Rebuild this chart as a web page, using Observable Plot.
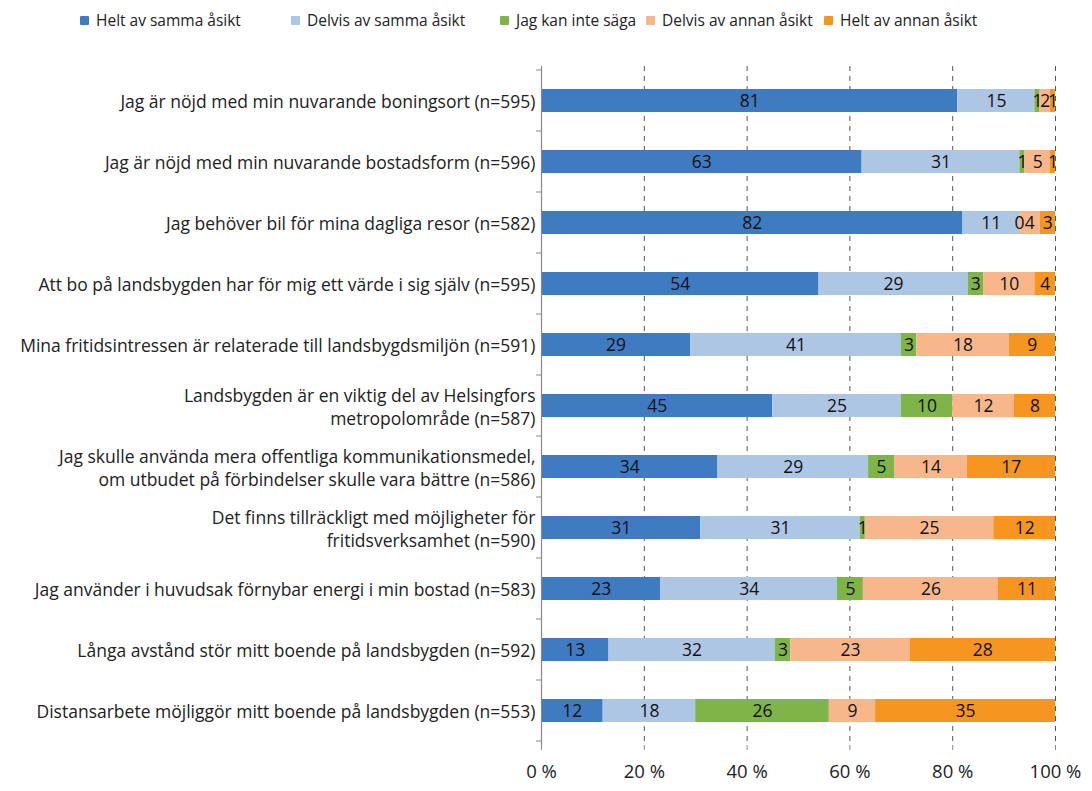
<!DOCTYPE html>
<html>
<head>
<meta charset="utf-8">
<script src="https://cdn.jsdelivr.net/npm/d3@7"></script>
<script src="https://cdn.jsdelivr.net/npm/@observablehq/plot@0.6"></script>
<style>
  html, body { margin: 0; padding: 0; background: #fff; }
  body { width: 1092px; height: 791px; overflow: hidden; font-family: "Open Sans", sans-serif; }
  #legend { position: relative; height: 45px; width: 1092px; font-size: 15.5px; color: #222; }
  .item { position: absolute; top: 9px; display: flex; align-items: center; white-space: nowrap; }
  .sw { width: 9px; height: 9px; margin-right: 7px; border-radius: 1px; }
</style>
</head>
<body>
<div id="legend"></div>
<div id="chart"></div>
<script>
const categories = [
  "Jag är nöjd med min nuvarande boningsort (n=595)",
  "Jag är nöjd med min nuvarande bostadsform (n=596)",
  "Jag behöver bil för mina dagliga resor (n=582)",
  "Att bo på landsbygden har för mig ett värde i sig själv (n=595)",
  "Mina fritidsintressen är relaterade till landsbygdsmiljön (n=591)",
  "Landsbygden är en viktig del av Helsingfors\nmetropolområde (n=587)",
  "Jag skulle använda mera offentliga kommunikationsmedel,\nom utbudet på förbindelser skulle vara bättre (n=586)",
  "Det finns tillräckligt med möjligheter för\nfritidsverksamhet (n=590)",
  "Jag använder i huvudsak förnybar energi i min bostad (n=583)",
  "Långa avstånd stör mitt boende på landsbygden (n=592)",
  "Distansarbete möjliggör mitt boende på landsbygden (n=553)"
];
const seriesNames = ["Helt av samma åsikt", "Delvis av samma åsikt", "Jag kan inte säga", "Delvis av annan åsikt", "Helt av annan åsikt"];
const heltSamma   = [81, 63, 82, 54, 29, 45, 34, 31, 23, 13, 12];
const delvisSamma = [15, 31, 11, 29, 41, 25, 29, 31, 34, 32, 18];
const kanInte     = [1, 1, 0, 3, 3, 10, 5, 1, 5, 3, 26];
const delvisAnnan = [2, 5, 4, 10, 18, 12, 14, 25, 26, 23, 9];
const heltAnnan   = [1, 1, 3, 4, 9, 8, 17, 12, 11, 28, 35];
const xTicks = [0, 0.2, 0.4, 0.6, 0.8, 1];
const colors = ["#3f7bc1", "#adc6e3", "#7fb548", "#f7b78b", "#f6951f"];

const seriesValues = [heltSamma, delvisSamma, kanInte, delvisAnnan, heltAnnan];
const data = [];
categories.forEach((c, i) => {
  seriesNames.forEach((s, j) => data.push({ question: c, answer: s, value: seriesValues[j][i] }));
});

// legend
const legendPos = [80, 291, 500, 646, 824];
const legend = document.getElementById("legend");
seriesNames.forEach((s, j) => {
  const it = document.createElement("div");
  it.className = "item";
  it.style.left = legendPos[j] + "px";
  it.innerHTML = `<span class="sw" style="background:${colors[j]}"></span><span>${s}</span>`;
  legend.appendChild(it);
});

// y-axis band boundary ticks
const bandTicks = (index, scales, values, dims) => {
  const g = d3.create("svg:g");
  const y = scales.y;
  const step = y.step();
  const x0 = dims.marginLeft;
  const doms = y.domain();
  const top = y(doms[0]) - (step - y.bandwidth()) / 2;
  for (let i = 0; i <= doms.length; i++) {
    g.append("line")
      .attr("x1", x0 - 5).attr("x2", x0)
      .attr("y1", top + i * step).attr("y2", top + i * step)
      .attr("stroke", "#888").attr("stroke-width", 1);
  }
  return g.node();
};

const chart = Plot.plot({
  width: 1092,
  height: 746,
  marginLeft: 541,
  marginRight: 37,
  marginTop: 21,
  marginBottom: 46,
  style: { fontFamily: "Open Sans, sans-serif", background: "#fff", color: "#222" },
  x: { domain: [0, 1] },
  y: { domain: categories, paddingInner: 0.62, paddingOuter: 0.31 },
  color: { domain: seriesNames, range: colors },
  marks: [
    Plot.ruleX(xTicks.slice(1), { stroke: "#555", strokeDasharray: "5,5", strokeWidth: 1 }),
    Plot.barX(data, Plot.stackX({ offset: "normalize", x: "value", y: "question", fill: "answer" })),
    Plot.text(data, Plot.stackX({ offset: "normalize", x: "value", y: "question", text: d => String(d.value), fill: "#111", fontSize: 17.5 })),
    Plot.ruleX([0], { stroke: "#888", strokeWidth: 1.2 }),
    Plot.ruleY([0], { frameAnchor: "bottom", stroke: "#888" }),
    Plot.axisY({ tickSize: 0, tickPadding: 6, fontSize: 17.5, lineHeight: 1.3, label: null, fill: "#222" }),
    Plot.axisX({ ticks: xTicks, tickFormat: d => `${Math.round(d * 100)} %`, tickSize: 5, tickPadding: 14, fontSize: 18.5, label: null, stroke: "#888" }),
    bandTicks
  ]
});
document.getElementById("chart").appendChild(chart);
</script>
</body>
</html>
